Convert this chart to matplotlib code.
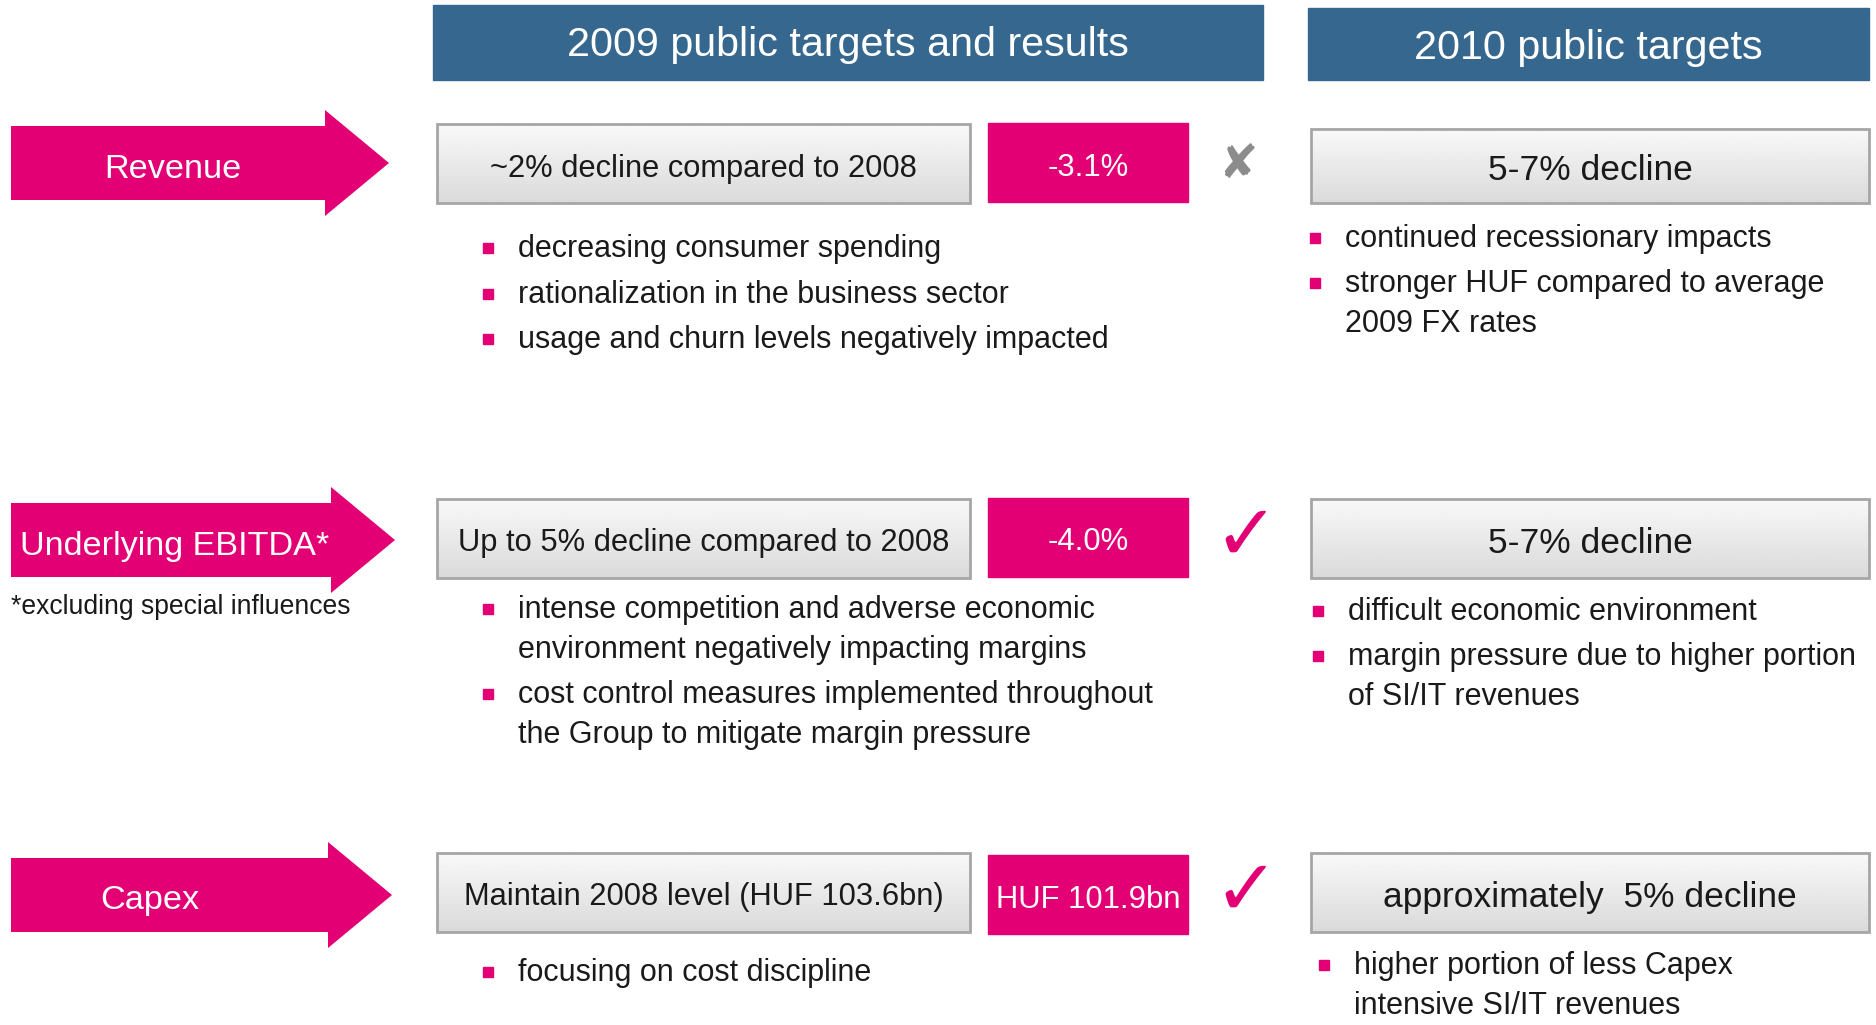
import numpy as np
import matplotlib
matplotlib.use("Agg")
import matplotlib.pyplot as plt
from matplotlib.patches import Polygon, Rectangle

PINK = "#e20074"
BLUE = "#36678e"
FONT = ["Liberation Sans", "DejaVu Sans"]

headers = ["2009 public targets and results", "2010 public targets"]
rows = ["Revenue", "Underlying EBITDA*", "Capex"]
targets_2009 = ["~2% decline compared to 2008",
                "Up to 5% decline compared to 2008",
                "Maintain 2008 level (HUF 103.6bn)"]
results_2009 = ["-3.1%", "-4.0%", "HUF 101.9bn"]
achieved = [False, True, True]
targets_2010 = ["5-7% decline", "5-7% decline", "approximately  5% decline"]
bullets_2009 = [
    ["decreasing consumer spending",
     "rationalization in the business sector",
     "usage and churn levels negatively impacted"],
    ["intense competition and adverse economic\nenvironment negatively impacting margins",
     "cost control measures implemented throughout\nthe Group to mitigate margin pressure"],
    ["focusing on cost discipline"],
]
bullets_2010 = [
    ["continued recessionary impacts",
     "stronger HUF compared to average\n2009 FX rates"],
    ["difficult economic environment",
     "margin pressure due to higher portion\nof SI/IT revenues"],
    ["higher portion of less Capex\nintensive SI/IT revenues"],
]
footnote = "*excluding special influences"

W, H = 1876, 1025
fig = plt.figure(figsize=(W / 100, H / 100), dpi=100)
ax = fig.add_axes([0, 0, 1, 1])
ax.set_xlim(0, W)
ax.set_ylim(H, 0)
ax.axis("off")

# headers
ax.add_patch(Rectangle((433, 5), 830, 75, color=BLUE))
ax.text(848, 45, headers[0], color="white", fontsize=29.7, family=FONT, ha="center", va="center")
ax.add_patch(Rectangle((1308, 8), 561, 72, color=BLUE))
ax.text(1588, 48, headers[1], color="white", fontsize=29.7, family=FONT, ha="center", va="center")

row_y = [163, 540, 895]
arrow_end = [325, 331, 328]
arrow_tip = [389, 395, 392]
label_x = [173, 20, 150]
box_y = [[124, 203], [499, 578], [853, 932]]
grad = np.linspace(0.975, 0.855, 64).reshape(-1, 1)


def gray_box(x0, x1, y0, y1, txt, size):
    ax.imshow(grad, cmap="gray", vmin=0, vmax=1, extent=(x0, x1, y1, y0),
              aspect="auto", zorder=1)
    ax.add_patch(Rectangle((x0, y0), x1 - x0, y1 - y0, fill=False,
                           ec="#a6a6a6", lw=2, zorder=2))
    ax.text((x0 + x1) / 2, (y0 + y1) / 2 + 5, txt, fontsize=size, family=FONT,
            ha="center", va="center", color="#1a1a1a", zorder=3)


for i, name in enumerate(rows):
    cy = row_y[i]
    bh, hh = 37, 53
    ax.add_patch(Polygon([(11, cy - bh), (arrow_end[i], cy - bh), (arrow_end[i], cy - hh),
                          (arrow_tip[i], cy), (arrow_end[i], cy + hh),
                          (arrow_end[i], cy + bh), (11, cy + bh)], color=PINK, lw=0))
    ha = "left" if i == 1 else "center"
    ax.text(label_x[i], cy + 6, name, color="white", fontsize=24.7, family=FONT,
            ha=ha, va="center")

    y0, y1 = box_y[i]
    gray_box(437, 970, y0, y1, targets_2009[i], 22.2)
    gray_box(1311, 1869, y0 + (5 if i == 0 else 0), y1, targets_2010[i], 25.5)

    dy = 3 if i == 2 else 0
    ax.add_patch(Rectangle((988, y0 - 1 + dy), 200, 79, color=PINK))
    ax.text(1088, (y0 + y1) / 2 + 4 + dy, results_2009[i], color="white",
            fontsize=22.3, family=FONT, ha="center", va="center")

    if achieved[i]:
        ax.text(1246, cy - 2, "\u2713", color=PINK, fontsize=56, family="DejaVu Sans",
                ha="center", va="center", fontweight="bold")
    else:
        ax.text(1238, 166, "\u2718", color="#8c8c8c", fontsize=34, family="DejaVu Sans",
                ha="center", va="center")

bul09_y = [[246, 292, 337], [607, 692], [970]]
bul10_y = [[236, 281], [609, 654], [963]]
bul10_x = [1315, 1318, 1324]


def bullets(lines, ys, mx):
    for t, y in zip(lines, ys):
        ax.add_patch(Rectangle((mx - 5, y - 3), 10, 10, color=PINK))
        ax.text(mx + 30, y - 12, t, fontsize=22, family=FONT, ha="left", va="top",
                color="#1a1a1a", linespacing=1.42)


for i in range(3):
    bullets(bullets_2009[i], bul09_y[i], 488)
    bullets(bullets_2010[i], bul10_y[i], bul10_x[i])

ax.text(11, 607, footnote, fontsize=19.1, family=FONT, ha="left", va="center", color="#1a1a1a")

fig.savefig("out.png", dpi=100)
